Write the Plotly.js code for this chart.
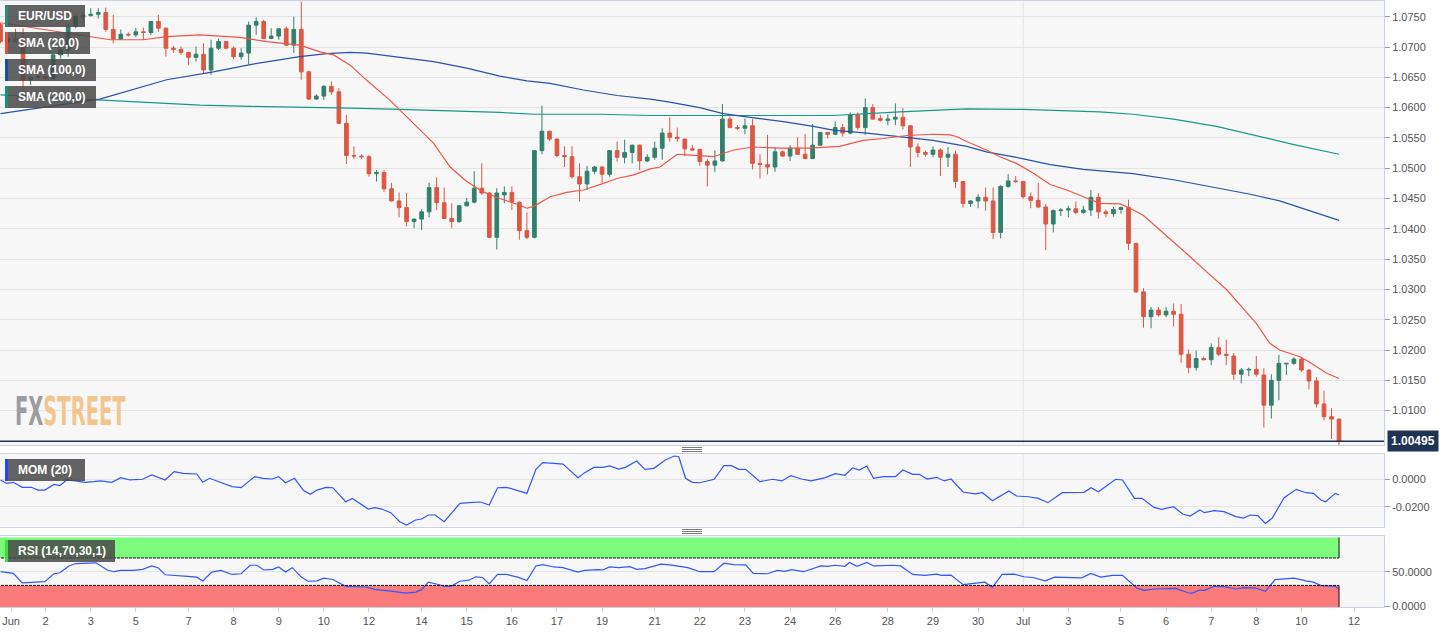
<!DOCTYPE html>
<html>
<head>
<meta charset="utf-8">
<script src="https://cdn.plot.ly/plotly-3.0.1.min.js"></script>
<style>
html,body{margin:0;padding:0;background:#fff;}
#chart{width:1455px;height:633px;}
</style>
</head>
<body>
<div id="chart"></div>
<script>
// ---- DATA (4-hour EUR/USD candles, Jun 1 - Jul 11) ----
const openP = [1.0737,1.0709,1.0714,1.0709,1.0646,1.0650,1.0651,1.0648,1.0687,1.0695,1.0734,1.0750,1.0752,1.0754,1.0757,1.0729,1.0713,1.0721,1.0720,1.0725,
1.0724,1.0742,1.0731,1.0698,1.0696,1.0691,1.0683,1.0688,1.0662,1.0698,1.0709,1.0698,1.0684,1.0690,1.0736,1.0742,1.0714,1.0718,1.0730,1.0703,
1.0729,1.0659,1.0614,1.0619,1.0635,1.0626,1.0574,1.0521,1.0520,1.0519,1.0491,1.0493,1.0466,1.0446,1.0435,1.0412,1.0416,1.0428,1.0468,1.0443,
1.0417,1.0412,1.0438,1.0444,1.0467,1.0459,1.0386,1.0456,1.0460,1.0444,1.0397,1.0386,1.0529,1.0561,1.0548,1.0521,1.0519,1.0486,1.0474,1.0495,
1.0502,1.0490,1.0529,1.0518,1.0526,1.0538,1.0512,1.0518,1.0533,1.0558,1.0551,1.0548,1.0532,1.0531,1.0511,1.0505,1.0512,1.0581,1.0567,1.0566,
1.0570,1.0508,1.0506,1.0502,1.0527,1.0520,1.0533,1.0523,1.0516,1.0538,1.0559,1.0556,1.0567,1.0558,1.0588,1.0567,1.0600,1.0582,1.0579,1.0581,
1.0584,1.0570,1.0535,1.0526,1.0523,1.0530,1.0518,1.0523,1.0478,1.0442,1.0446,1.0452,1.0446,1.0394,1.0470,1.0479,1.0478,1.0453,1.0447,1.0436,
1.0408,1.0430,1.0431,1.0433,1.0427,1.0431,1.0452,1.0428,1.0425,1.0432,1.0435,1.0376,1.0296,1.0255,1.0266,1.0258,1.0264,1.0259,1.0193,1.0171,
1.0186,1.0184,1.0204,1.0193,1.0190,1.0160,1.0167,1.0168,1.0159,1.0109,1.0150,1.0177,1.0178,1.0185,1.0167,1.0149,1.0111,1.0090,1.0086];
const highP = [1.0740,1.0718,1.0730,1.0731,1.0654,1.0654,1.0654,1.0689,1.0700,1.0739,1.0753,1.0756,1.0764,1.0764,1.0765,1.0753,1.0729,1.0724,1.0731,1.0732,
1.0743,1.0753,1.0732,1.0702,1.0701,1.0692,1.0701,1.0706,1.0712,1.0714,1.0710,1.0701,1.0698,1.0742,1.0749,1.0745,1.0731,1.0731,1.0734,1.0750,
1.0775,1.0661,1.0622,1.0637,1.0643,1.0632,1.0588,1.0536,1.0523,1.0522,1.0497,1.0497,1.0476,1.0460,1.0459,1.0417,1.0432,1.0476,1.0485,1.0468,
1.0442,1.0439,1.0451,1.0495,1.0508,1.0461,1.0467,1.0470,1.0470,1.0445,1.0427,1.0530,1.0603,1.0562,1.0549,1.0536,1.0536,1.0508,1.0504,1.0504,
1.0503,1.0530,1.0544,1.0547,1.0539,1.0539,1.0523,1.0544,1.0566,1.0584,1.0567,1.0549,1.0538,1.0532,1.0515,1.0529,1.0606,1.0585,1.0571,1.0582,
1.0581,1.0523,1.0555,1.0535,1.0529,1.0538,1.0551,1.0556,1.0573,1.0560,1.0560,1.0577,1.0573,1.0592,1.0592,1.0615,1.0606,1.0588,1.0589,1.0607,
1.0599,1.0571,1.0541,1.0529,1.0536,1.0533,1.0535,1.0529,1.0479,1.0447,1.0457,1.0468,1.0468,1.0472,1.0490,1.0487,1.0479,1.0460,1.0476,1.0441,
1.0432,1.0434,1.0438,1.0445,1.0438,1.0464,1.0459,1.0432,1.0436,1.0437,1.0448,1.0377,1.0302,1.0271,1.0271,1.0271,1.0277,1.0276,1.0201,1.0199,
1.0189,1.0211,1.0221,1.0217,1.0195,1.0170,1.0171,1.0190,1.0170,1.0160,1.0192,1.0179,1.0188,1.0188,1.0168,1.0155,1.0133,1.0104,1.0087];
const lowP = [1.0706,1.0706,1.0707,1.0626,1.0637,1.0646,1.0646,1.0646,1.0681,1.0684,1.0731,1.0742,1.0750,1.0747,1.0725,1.0706,1.0712,1.0717,1.0716,1.0712,
1.0720,1.0725,1.0684,1.0690,1.0687,1.0670,1.0676,1.0657,1.0654,1.0695,1.0696,1.0680,1.0679,1.0672,1.0720,1.0713,1.0713,1.0712,1.0702,1.0690,
1.0646,1.0613,1.0613,1.0613,1.0621,1.0573,1.0507,1.0515,1.0516,1.0486,1.0478,1.0461,1.0445,1.0419,1.0404,1.0401,1.0398,1.0419,1.0431,1.0416,
1.0401,1.0410,1.0437,1.0442,1.0456,1.0385,1.0366,1.0442,1.0431,1.0382,1.0383,1.0384,1.0523,1.0545,1.0518,1.0502,1.0483,1.0445,1.0464,1.0490,
1.0475,1.0486,1.0511,1.0508,1.0508,1.0497,1.0510,1.0514,1.0514,1.0544,1.0544,1.0520,1.0529,1.0504,1.0470,1.0494,1.0511,1.0566,1.0563,1.0556,
1.0498,1.0483,1.0490,1.0494,1.0519,1.0512,1.0522,1.0515,1.0515,1.0537,1.0549,1.0555,1.0552,1.0556,1.0563,1.0555,1.0580,1.0577,1.0571,1.0571,
1.0564,1.0502,1.0518,1.0519,1.0518,1.0487,1.0502,1.0467,1.0435,1.0436,1.0434,1.0430,1.0383,1.0384,1.0468,1.0476,1.0450,1.0434,1.0434,1.0365,
1.0394,1.0421,1.0419,1.0424,1.0425,1.0421,1.0417,1.0419,1.0420,1.0425,1.0365,1.0294,1.0237,1.0236,1.0255,1.0254,1.0239,1.0179,1.0162,1.0166,
1.0183,1.0175,1.0190,1.0175,1.0151,1.0145,1.0157,1.0156,1.0072,1.0087,1.0117,1.0159,1.0176,1.0164,1.0135,1.0105,1.0084,1.0053,1.0043];
const closeP = [1.0709,1.0714,1.0709,1.0646,1.0650,1.0651,1.0648,1.0687,1.0695,1.0734,1.0750,1.0752,1.0754,1.0757,1.0729,1.0713,1.0721,1.0720,1.0725,1.0724,
1.0742,1.0731,1.0698,1.0696,1.0691,1.0683,1.0688,1.0662,1.0698,1.0709,1.0698,1.0684,1.0690,1.0736,1.0742,1.0714,1.0718,1.0730,1.0703,1.0729,
1.0659,1.0614,1.0619,1.0635,1.0626,1.0574,1.0521,1.0520,1.0519,1.0491,1.0493,1.0466,1.0446,1.0435,1.0412,1.0416,1.0428,1.0468,1.0443,1.0417,
1.0412,1.0438,1.0444,1.0467,1.0459,1.0386,1.0459,1.0460,1.0444,1.0397,1.0386,1.0529,1.0561,1.0548,1.0521,1.0519,1.0486,1.0474,1.0495,1.0502,
1.0490,1.0529,1.0518,1.0526,1.0538,1.0512,1.0518,1.0533,1.0558,1.0551,1.0549,1.0532,1.0530,1.0511,1.0505,1.0512,1.0581,1.0567,1.0566,1.0570,
1.0508,1.0506,1.0502,1.0527,1.0520,1.0533,1.0523,1.0516,1.0538,1.0559,1.0556,1.0567,1.0558,1.0588,1.0567,1.0600,1.0581,1.0579,1.0581,1.0584,
1.0570,1.0535,1.0526,1.0523,1.0530,1.0518,1.0523,1.0478,1.0442,1.0446,1.0452,1.0446,1.0394,1.0470,1.0479,1.0478,1.0453,1.0447,1.0436,1.0408,
1.0430,1.0431,1.0433,1.0427,1.0431,1.0452,1.0428,1.0425,1.0432,1.0435,1.0376,1.0296,1.0255,1.0266,1.0258,1.0264,1.0259,1.0193,1.0171,1.0186,
1.0184,1.0204,1.0193,1.0191,1.0160,1.0167,1.0168,1.0160,1.0109,1.0150,1.0178,1.0178,1.0185,1.0167,1.0149,1.0111,1.0090,1.0086,1.00495];

const lastPrice = 1.00495;

// moving averages: [candle position, value]
const sma20X = [0,12.4,14.6,19,22.1,26.5,31.8,35.4,39.8,42.5,44.3,46.5,48.7,51.8,53.1,55.3,57.6,59.8,62,64.2,66.4,68.6,70,70.9,73.1,75.3,77.5,79.7,82,84.2,86.4,87.7,90,91.2,94.8,97.5,100.1,103.7,107.6,111.6,114.7,117.4,120.5,124,126.3,127.2,128.5,131.1,132.9,135.1,137.3,139.6,141.8,144,146.2,148.9,150.2,152,154.2,156,158.2,160.4,163.1,165.3,167,168.8,170.1,172.8,174.1,176.3,178];
const sma20Y = [1.0740,1.0716,1.0712,1.0712,1.0717,1.0720,1.0716,1.0709,1.0703,1.0692,1.0687,1.0670,1.0645,1.0612,1.0596,1.0568,1.0541,1.0502,1.0478,1.0461,1.0450,1.0441,1.0434,1.0437,1.0453,1.0460,1.0464,1.0473,1.0483,1.0489,1.0499,1.0502,1.0523,1.0522,1.0519,1.0530,1.0535,1.0533,1.0533,1.0536,1.0546,1.0549,1.0554,1.0556,1.0555,1.0552,1.0544,1.0530,1.0519,1.0508,1.0492,1.0473,1.0464,1.0453,1.0442,1.0441,1.0434,1.0422,1.0398,1.0379,1.0354,1.0329,1.0299,1.0268,1.0244,1.0211,1.0200,1.0189,1.0180,1.0162,1.0153];
const sma100X = [0,13.2,22.1,28.3,33.2,39.8,43.4,46.5,48.7,53.1,57.6,62,66.4,70,73.1,77.5,82,86.4,88.6,93,96.1,99.7,104.1,108.1,110.7,115.2,119.6,124,128.5,131.1,135.1,139.6,144,150.6,156,161.7,166.2,170.1,178];
const sma100Y = [1.0590,1.0614,1.0646,1.0659,1.0671,1.0684,1.0689,1.0691,1.0690,1.0683,1.0676,1.0665,1.0652,1.0644,1.0640,1.0629,1.0620,1.0614,1.0610,1.0600,1.0590,1.0584,1.0577,1.0569,1.0563,1.0558,1.0552,1.0546,1.0536,1.0527,1.0518,1.0506,1.0498,1.0491,1.0481,1.0468,1.0457,1.0446,1.0414];
const sma200X = [0,13.2,26.5,33.2,39.8,46.5,53.1,66.4,70.9,79.7,86.4,93,101.9,110.7,119.6,128.5,136,146.2,150.6,156,161.7,166.2,172,178];
const sma200Y = [1.0621,1.0613,1.0604,1.0602,1.0601,1.0599,1.0597,1.0592,1.0589,1.0589,1.0587,1.0587,1.0587,1.0587,1.0593,1.0598,1.0597,1.0593,1.0589,1.0581,1.0569,1.0556,1.0539,1.0523];

// Momentum (20)
const momX = [0,0.8,1.7,2.9,4.1,5,5.9,7.1,7.9,8.8,10,11.2,12.4,13.3,14.8,16,17.2,18.9,20.1,21.9,23.1,24.3,26.1,26.9,27.8,29.6,30.8,32,33.8,34.9,36.1,37,37.9,39.1,40.3,41.2,42.1,43.3,44.2,45.9,46.8,48.9,49.8,50.7,51.9,53.1,54,55.2,56,56.9,57.8,59,61.1,62.3,63.8,65,66.1,67.3,68.8,70,71.2,72.1,73.6,74.8,76.8,77.7,78.9,80.1,81,82.2,83.1,84.6,85.7,86.9,88.4,89.6,90.2,91.1,92,93,94.9,96.2,97.2,98.2,99.1,101,102.7,103.9,105.1,106.5,107.8,109.7,111,112.3,113.3,114.2,115.2,116.1,117.4,119,120,121.3,122.2,123.2,124.5,125.5,126.4,128,129.6,130.6,131.9,134.1,135.1,136.7,138,139.3,141.2,142.5,144.1,145,146,148.3,149.2,150.8,151.8,153.4,154.4,156,157.2,158.2,159.5,160.1,161.4,162.7,164.3,165.3,166.2,167.2,168.2,169.1,170.7,172.3,173.6,174.6,175.6,176.2,177.5,178];
const momY = [-0.0007,-0.0031,-0.0024,-0.0060,-0.0060,-0.0080,-0.0080,-0.0039,-0.0048,-0.0007,-0.0014,-0.0024,-0.0019,-0.0014,-0.0024,0.0010,-0.0007,-0.0002,0.0029,-0.0007,0.0053,0.0041,0.0036,-0.0024,0.0005,-0.0031,-0.0055,-0.0063,0.0017,0.0005,0.0000,0.0017,-0.0027,0.0005,-0.0084,-0.0111,-0.0080,-0.0060,-0.0063,-0.0164,-0.0140,-0.0217,-0.0207,-0.0217,-0.0243,-0.0308,-0.0333,-0.0296,-0.0289,-0.0260,-0.0260,-0.0308,-0.0176,-0.0171,-0.0166,-0.0188,-0.0063,-0.0060,-0.0084,-0.0104,0.0070,0.0118,0.0113,0.0108,0.0010,0.0046,0.0084,0.0084,0.0094,0.0072,0.0084,0.0130,0.0070,0.0077,0.0137,0.0166,0.0161,0.0005,-0.0024,-0.0027,-0.0002,0.0096,0.0096,0.0070,0.0070,-0.0019,-0.0002,-0.0014,0.0024,0.0000,-0.0014,0.0010,0.0039,0.0027,0.0080,0.0065,0.0094,0.0005,0.0017,0.0017,0.0065,0.0034,0.0034,0.0000,0.0012,-0.0014,0.0000,-0.0094,-0.0108,-0.0099,-0.0157,-0.0087,-0.0123,-0.0128,-0.0140,-0.0171,-0.0099,-0.0096,-0.0096,-0.0063,-0.0092,-0.0002,-0.0007,-0.0140,-0.0140,-0.0205,-0.0219,-0.0200,-0.0253,-0.0268,-0.0224,-0.0243,-0.0229,-0.0236,-0.0272,-0.0282,-0.0260,-0.0265,-0.0321,-0.0284,-0.0135,-0.0075,-0.0099,-0.0104,-0.0152,-0.0164,-0.0104,-0.0116];

// RSI (14)
const rsiX = [0,1.7,2.9,4.4,5.9,7.1,7.9,9.1,10,12.7,14.2,15.1,16,17.7,18.9,20.1,21,21.9,23.7,24.9,26.1,26.9,28.1,29.3,30.8,32,33.2,34.1,35,36.2,37,37.9,38.8,40,40.9,42.1,43,44.2,45.9,46.8,48.6,49.8,51,52.2,53.9,55.2,56,56.9,58.1,59,59.9,61.1,62.3,63.2,64.1,65,66.1,67.3,68.8,70,71.2,72.1,73.6,74.8,76.8,77.7,79.5,80.1,81,82.2,83.7,84.6,85.7,87.8,89,90.2,91.4,93,94.9,96.2,97.5,99.1,100.1,102,103.3,104.3,105.2,106.8,109.1,110,111,112.3,112.9,113.9,115.2,116.1,118.7,119.7,121.3,122.9,124.5,125.1,126.4,128,129.6,130.9,131.9,133.2,134.8,136.1,137.3,138.9,140.2,141.8,143.8,145,146.3,147.9,149.2,151.1,152.1,153.4,155,156.3,157.9,158.5,159.5,160.1,161.4,162.7,164.3,165.3,166.9,168.2,169.5,172,173.6,174.6,175.6,177.5,178];
const rsiY = [50.0,47.5,33.7,34.7,35.6,47.0,48.5,58.4,61.9,62.9,52.5,50.0,52.0,52.0,53.5,58.4,55.4,45.5,44.6,43.1,42.1,36.6,49.5,52.0,46.0,47.0,59.4,59.4,52.5,53.5,56.9,49.5,55.9,42.1,36.1,36.6,40.6,38.6,28.7,28.2,27.7,24.3,22.3,21.3,18.8,20.3,23.8,34.7,31.7,28.7,28.7,36.1,37.6,42.6,41.6,32.2,46.0,46.0,42.1,37.1,58.4,60.4,56.9,55.9,49.5,52.0,53.0,52.5,56.9,55.9,57.4,53.5,54.5,60.9,59.9,58.4,55.9,50.0,50.0,62.4,60.4,59.9,47.5,47.0,52.0,50.5,53.0,50.0,58.4,57.9,59.4,57.9,63.4,57.9,63.4,58.4,59.4,58.4,46.0,44.6,46.5,44.6,45.0,31.2,32.7,34.7,27.2,46.0,46.5,42.6,41.6,36.6,42.1,42.1,41.1,47.5,42.1,44.6,44.6,26.2,22.8,24.8,24.8,25.7,19.3,18.8,23.3,22.8,28.7,28.2,24.8,26.7,26.2,21.3,38.6,40.6,36.6,34.7,29.7,28.7,24.8];
const rsiUpper = 70, rsiLower = 30;

// x-axis day labels (candle positions)
const dayTickPos = [1.4,6,12,18,25,31,37,43,49,56,62,68,74,80,87,93,99,105,111,118,124,130,136,142,149,155,161,167,173,180];
const dayTickText = ["Jun","2","3","5","7","8","9","10","12","14","15","16","17","19","21","22","23","24","26","28","29","30","Jul","3","5","6","7","8","10","12"];
const priceTicks = [1.0100,1.0150,1.0200,1.0250,1.0300,1.0350,1.0400,1.0450,1.0500,1.0550,1.0600,1.0650,1.0700,1.0750];
const monthBreak = 136;

// ---- LAYOUT HELPERS (pixel -> paper) ----
const W = 1455, H = 633, ML = 0, MR = 71, MT = 1, MB = 26;
const PW = W - ML - MR, PH = H - MT - MB;
const px = v => (v - ML) / PW;
const py = v => (H - MB - v) / PH;

const candleIdx = closeP.map((_, i) => i);

const GREEN = '#31806b', RED = '#db5843';
const BORDER = '#c9d1e3', GRID = '#e4e4e4';
const tickFont = {family: 'Liberation Sans, Arial, sans-serif', size: 11, color: '#555'};

const traces = [
  {type: 'candlestick', x: candleIdx, open: openP, high: highP, low: lowP, close: closeP,
   xaxis: 'x', yaxis: 'y',
   increasing: {line: {color: GREEN, width: 1}, fillcolor: GREEN},
   decreasing: {line: {color: RED, width: 1}, fillcolor: RED},
   hoverinfo: 'skip', showlegend: false},
  {type: 'scatter', mode: 'lines', x: sma200X, y: sma200Y, xaxis: 'x', yaxis: 'y',
   line: {color: '#17998a', width: 1.2}, hoverinfo: 'skip', showlegend: false},
  {type: 'scatter', mode: 'lines', x: sma100X, y: sma100Y, xaxis: 'x', yaxis: 'y',
   line: {color: '#2a51a9', width: 1.2}, hoverinfo: 'skip', showlegend: false},
  {type: 'scatter', mode: 'lines', x: sma20X, y: sma20Y, xaxis: 'x', yaxis: 'y',
   line: {color: '#f25548', width: 1.2}, hoverinfo: 'skip', showlegend: false},
  {type: 'scatter', mode: 'lines', x: momX, y: momY, xaxis: 'x2', yaxis: 'y2',
   line: {color: '#3355ff', width: 1.2}, hoverinfo: 'skip', showlegend: false},
  {type: 'scatter', mode: 'lines', x: rsiX, y: rsiY, xaxis: 'x3', yaxis: 'y3',
   line: {color: '#3355ff', width: 1.2}, hoverinfo: 'skip', showlegend: false}
];

const xBase = {
  range: [-0.066, 183.98], showgrid: false, zeroline: false,
  showline: true, linecolor: BORDER, linewidth: 1, mirror: true,
  fixedrange: true
};
const yBase = {
  side: 'right', showgrid: true, gridcolor: GRID, gridwidth: 1, zeroline: false,
  showline: true, linecolor: BORDER, linewidth: 1, mirror: true,
  ticks: 'outside', ticklen: 5, tickcolor: '#999', tickfont: tickFont, fixedrange: true
};

const shapes = [];
const annotations = [];

// month boundary vertical grid line in each panel
[['x','y'],['x2','y2'],['x3','y3']].forEach(([xa, ya]) => {
  shapes.push({type: 'line', xref: xa, yref: ya + ' domain', x0: monthBreak, x1: monthBreak, y0: 0, y1: 1,
    line: {color: GRID, width: 1}, layer: 'below'});
});

// RSI overbought / oversold bands
const lastIdx = candleIdx[candleIdx.length - 1];
shapes.push({type: 'rect', xref: 'x3', yref: 'y3', x0: -1, x1: lastIdx, y0: rsiUpper, y1: 100,
  fillcolor: '#7dfb7d', line: {width: 0}, layer: 'below'});
shapes.push({type: 'rect', xref: 'x3', yref: 'y3', x0: -1, x1: lastIdx, y0: -3, y1: rsiLower,
  fillcolor: '#fb7b7b', line: {width: 0}, layer: 'below'});
shapes.push({type: 'line', xref: 'x3', yref: 'y3', x0: -1, x1: lastIdx, y0: rsiUpper, y1: rsiUpper,
  line: {color: '#111', width: 1, dash: '3px,1px'}});
shapes.push({type: 'line', xref: 'x3', yref: 'y3', x0: -1, x1: lastIdx, y0: rsiLower, y1: rsiLower,
  line: {color: '#111', width: 1, dash: '3px,1px'}});
shapes.push({type: 'line', xref: 'x3', yref: 'y3', x0: lastIdx, x1: lastIdx, y0: rsiUpper, y1: 100,
  line: {color: '#111', width: 1}});
shapes.push({type: 'line', xref: 'x3', yref: 'y3', x0: lastIdx, x1: lastIdx, y0: -3, y1: rsiLower,
  line: {color: '#111', width: 1}});

// last price line
shapes.push({type: 'line', xref: 'x domain', yref: 'y', x0: 0, x1: 1, y0: lastPrice, y1: lastPrice,
  line: {color: '#1d3050', width: 1.5}});

// panel resize handles
[[447.5, 449.5, 451.5], [529.5, 531.5, 533.5]].forEach(ys => ys.forEach(yy => {
  shapes.push({type: 'line', xref: 'paper', yref: 'paper', x0: px(682), x1: px(702), y0: py(yy), y1: py(yy),
    line: {color: '#7a7a7a', width: 1}});
}));

// legend boxes
const boxes = [
  {text: 'EUR/USD', x1: 85, y0: 5, y1: 27, color: '#2e8a74'},
  {text: 'SMA (20,0)', x1: 90, y0: 32, y1: 54, color: '#f2473c'},
  {text: 'SMA (100,0)', x1: 96, y0: 59, y1: 81, color: '#1f4ca6'},
  {text: 'SMA (200,0)', x1: 96, y0: 86, y1: 108, color: '#17907e'},
  {text: 'MOM (20)', x1: 85, y0: 459, y1: 481, color: '#2244ff'},
  {text: 'RSI (14,70,30,1)', x1: 115, y0: 540, y1: 562, color: '#3ee03e'}
];
boxes.forEach(b => {
  shapes.push({type: 'rect', xref: 'paper', yref: 'paper', x0: px(5), x1: px(b.x1), y0: py(b.y1), y1: py(b.y0),
    fillcolor: 'rgba(72,72,72,0.85)', line: {width: 0}});
  shapes.push({type: 'rect', xref: 'paper', yref: 'paper', x0: px(5), x1: px(8), y0: py(b.y1), y1: py(b.y0),
    fillcolor: b.color, line: {width: 0}});
  annotations.push({xref: 'paper', yref: 'paper', x: px(16), y: py((b.y0 + b.y1) / 2),
    xanchor: 'left', yanchor: 'middle', showarrow: false, text: b.text,
    font: {family: 'Liberation Sans, Arial, sans-serif', size: 12, color: '#ffffff', weight: 'bold'}});
});

// current price tag
annotations.push({xref: 'paper', yref: 'y', x: px(1387), y: lastPrice, xanchor: 'left', yanchor: 'middle',
  showarrow: false, text: '<b>' + lastPrice.toFixed(5) + '</b>', bgcolor: '#1f3354', borderpad: 3,
  font: {family: 'Liberation Sans, Arial, sans-serif', size: 12, color: '#ffffff'}});

// watermark
annotations.push({xref: 'paper', yref: 'paper', x: px(13), y: py(412), xanchor: 'left', yanchor: 'middle',
  showarrow: false,
  text: '<span style="color:#9b9ba3">FX</span><span style="color:#f3c68e">STREET</span>',
  font: {family: 'Liberation Sans Narrow, DejaVu Sans Condensed, sans-serif', size: 30, weight: 'bold'}});

const layout = {
  width: W, height: H,
  margin: {l: ML, r: MR, t: MT, b: MB, pad: 0},
  paper_bgcolor: '#ffffff', plot_bgcolor: '#f7f7f7',
  showlegend: false, dragmode: false, hovermode: false,
  font: tickFont,
  xaxis: Object.assign({}, xBase, {anchor: 'y', domain: [0, 1], showticklabels: false, ticks: '',
    rangeslider: {visible: false}}),
  xaxis2: Object.assign({}, xBase, {anchor: 'y2', domain: [0, 1], matches: 'x', showticklabels: false, ticks: ''}),
  xaxis3: Object.assign({}, xBase, {anchor: 'y3', domain: [0, 1], matches: 'x',
    tickmode: 'array', tickvals: dayTickPos, ticktext: dayTickText, ticklabeloverflow: 'allow',
    ticks: 'outside', ticklen: 4, tickcolor: BORDER, tickfont: tickFont}),
  yaxis: Object.assign({}, yBase, {anchor: 'x', domain: [py(445), py(1)], range: [1.00433, 1.07759],
    tickmode: 'array', tickvals: priceTicks, ticktext: priceTicks.map(v => v.toFixed(4))}),
  yaxis2: Object.assign({}, yBase, {anchor: 'x2', domain: [py(526.7), py(454.3)], range: [-0.03444, 0.01783],
    tickmode: 'array', tickvals: [0, -0.02], ticktext: ['0.0000', '-0.0200']}),
  yaxis3: Object.assign({}, yBase, {anchor: 'x3', domain: [py(607), py(535.7)], range: [-1.46, 102.5],
    tickmode: 'array', tickvals: [0, 50], ticktext: ['0.0000', '50.0000']}),
  shapes: shapes,
  annotations: annotations
};

Plotly.newPlot('chart', traces, layout, {displayModeBar: false, staticPlot: true}).then(gd => {
  // squeeze the watermark into the tall, narrow logo proportions
  gd.querySelectorAll('.annotation-text').forEach(t => {
    if (t.textContent === 'FXSTREET') {
      const b = t.getBBox();
      const sx = 111 / b.width, sy = 1.28;
      const cx = b.x, cy = b.y + b.height / 2;
      const prev = t.getAttribute('transform') || '';
      t.setAttribute('transform', prev + ' translate(' + cx + ',' + cy + ') scale(' + sx + ',' + sy + ') translate(' + (-cx) + ',' + (-cy) + ')');
    }
  });
});
</script>
</body>
</html>
